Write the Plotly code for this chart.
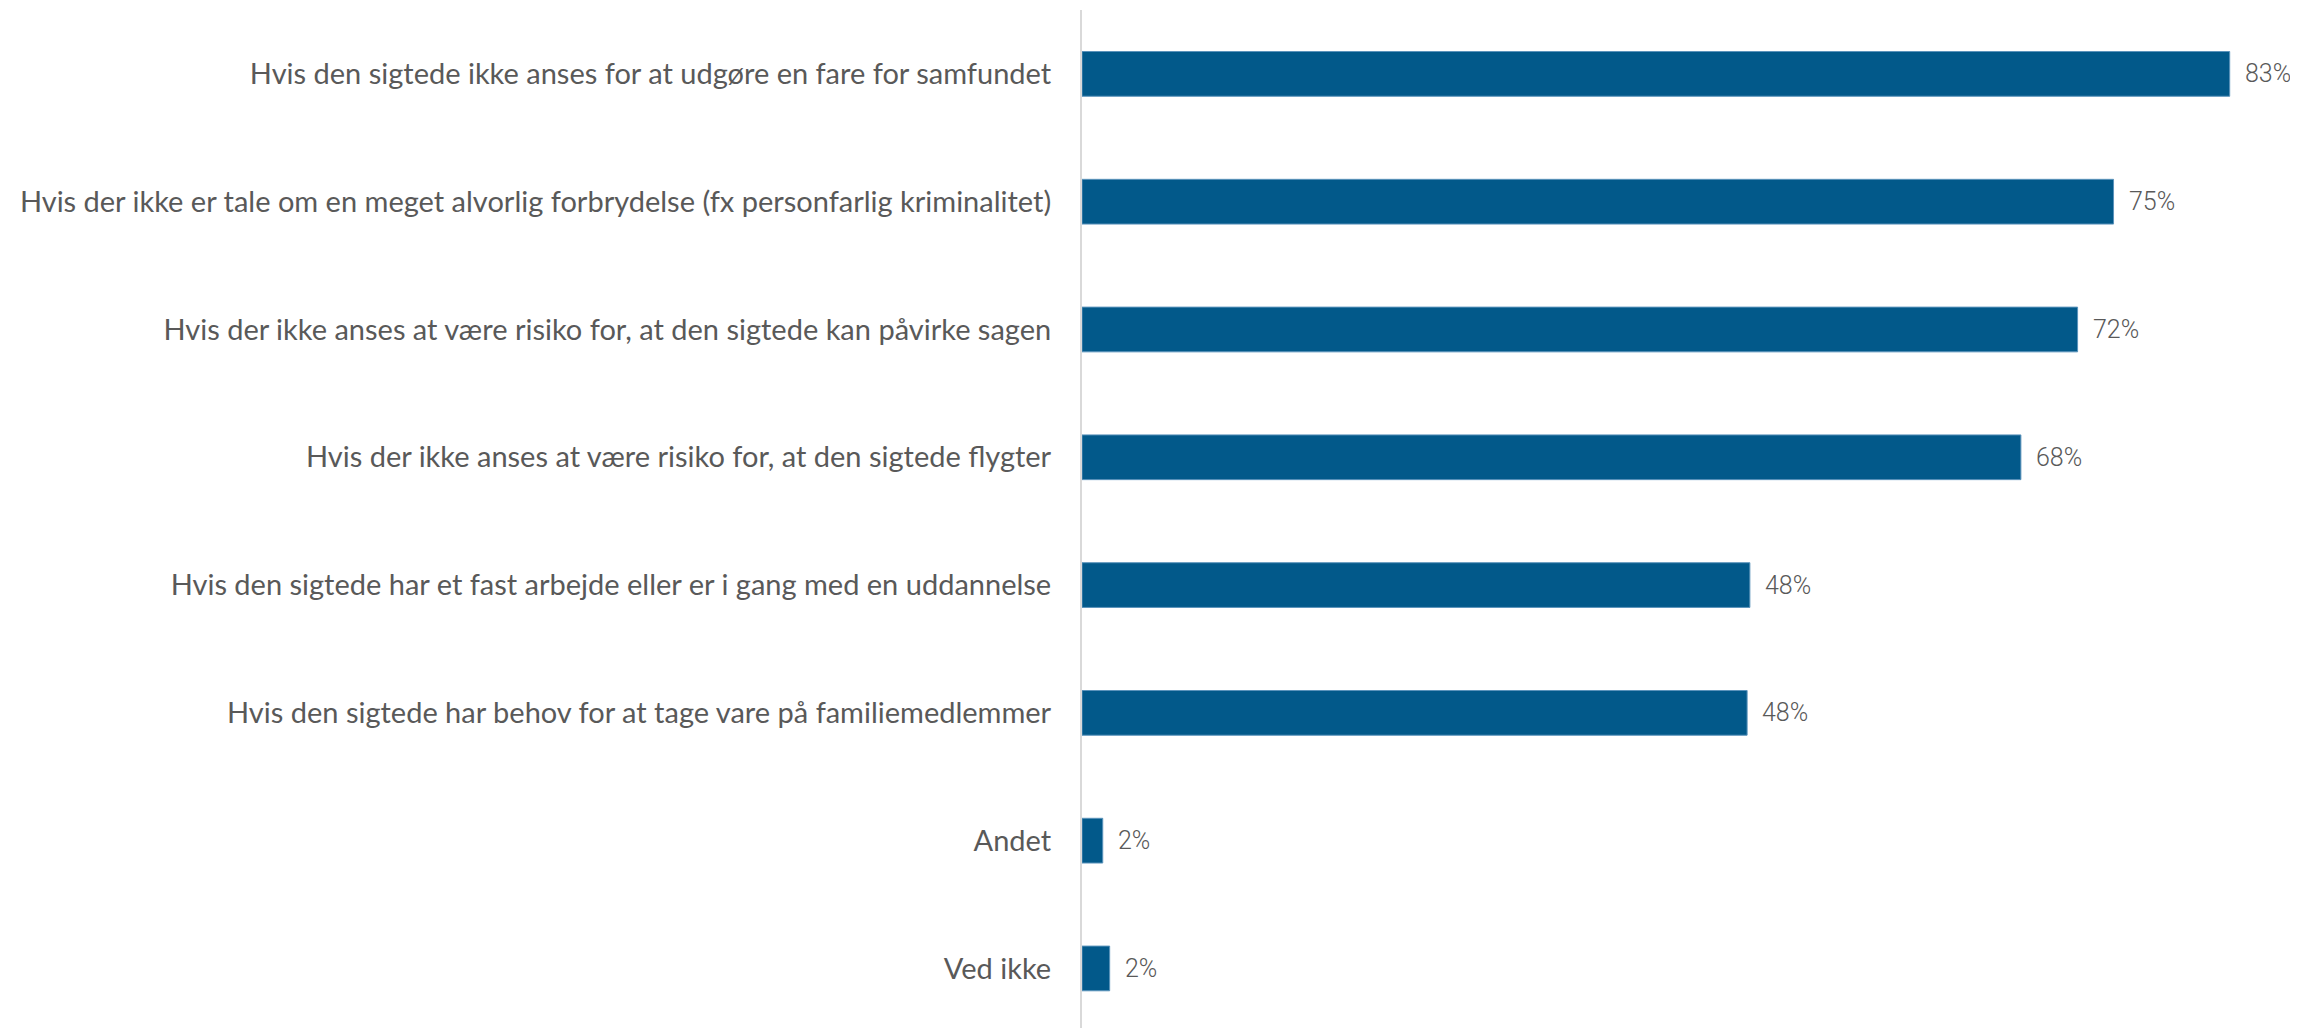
import plotly.graph_objects as go

categories = [
    "Hvis den sigtede ikke anses for at udgøre en fare for samfundet",
    "Hvis der ikke er tale om en meget alvorlig forbrydelse (fx personfarlig kriminalitet)",
    "Hvis der ikke anses at være risiko for, at den sigtede kan påvirke sagen",
    "Hvis der ikke anses at være risiko for, at den sigtede flygter",
    "Hvis den sigtede har et fast arbejde eller er i gang med en uddannelse",
    "Hvis den sigtede har behov for at tage vare på familiemedlemmer",
    "Andet",
    "Ved ikke",
]
values = [83.0, 74.6, 72.0, 67.9, 48.3, 48.1, 1.5, 2.0]
labels = ["83%", "75%", "72%", "68%", "48%", "48%", "2%", "2%"]

fig = go.Figure()
fig.add_trace(go.Bar(
    y=categories,
    x=values,
    orientation="h",
    marker=dict(color="#02598a", line=dict(color="#5b93bb", width=1)),
    hoverinfo="skip",
))

for c, v, t in zip(categories, values, labels):
    fig.add_annotation(
        x=v, y=c, text=t, showarrow=False,
        xanchor="left", yanchor="middle", xshift=13,
        font=dict(family="Roboto", size=25, color="#595959", weight=300),
    )

# page body has an 8px default margin; compensate in size/margins
fig.update_layout(
    width=2290, height=1020,
    margin=dict(l=1074, r=13, t=2, b=0),
    paper_bgcolor="white", plot_bgcolor="white",
    bargap=0.65,
    showlegend=False,
    xaxis=dict(range=[0, 87], visible=False, fixedrange=True),
    yaxis=dict(
        type="category",
        range=[7.466, -0.5],
        showline=True, linecolor="#d9d9d9", linewidth=2,
        showgrid=False, zeroline=False, ticks="",
        ticklabelstandoff=23,
        tickfont=dict(family="Lato", size=29, color="#595959"),
    ),
)

fig.write_html("out.html")
